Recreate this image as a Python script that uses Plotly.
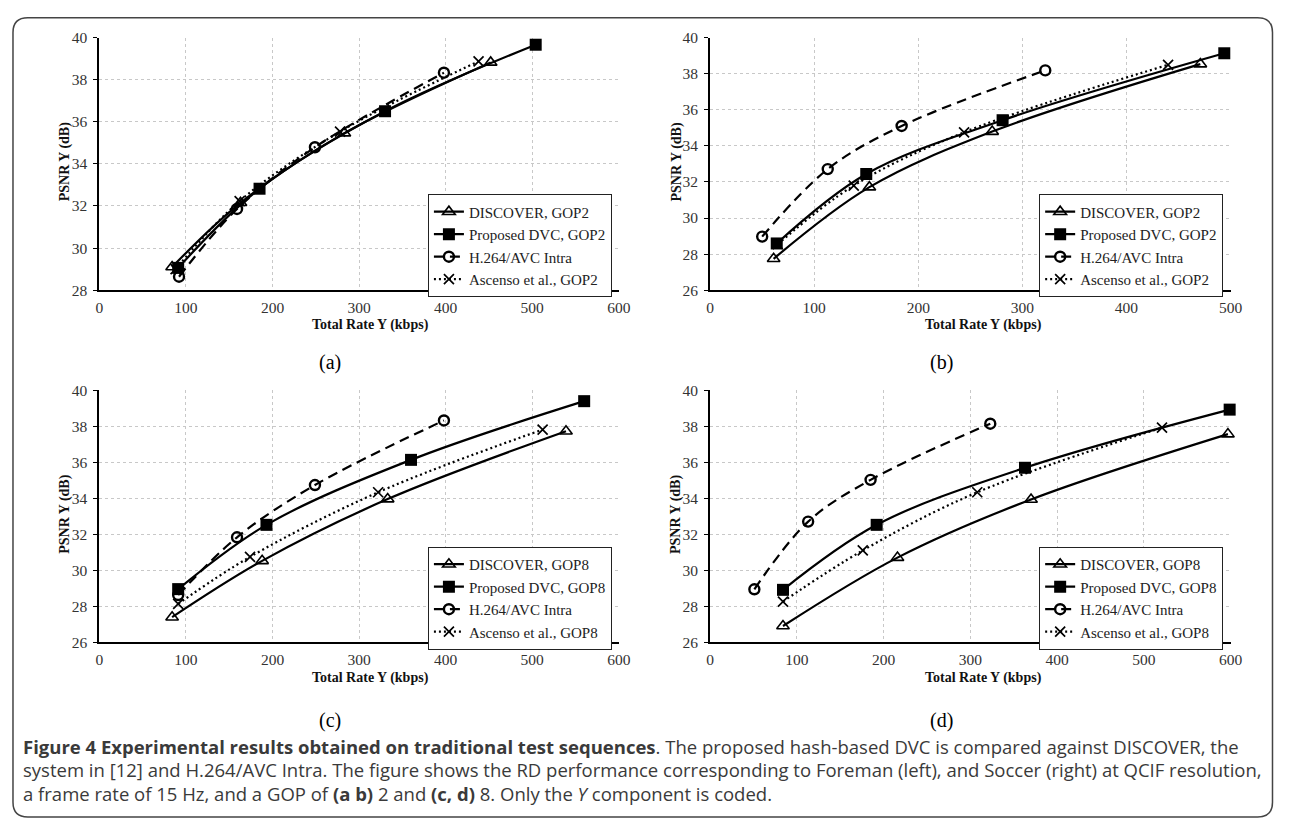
import plotly.graph_objects as go

# ---------------- data ----------------
series_names_gop2 = ["DISCOVER, GOP2", "Proposed DVC, GOP2", "H.264/AVC Intra", "Ascenso et al., GOP2"]
series_names_gop8 = ["DISCOVER, GOP8", "Proposed DVC, GOP8", "H.264/AVC Intra", "Ascenso et al., GOP8"]
panel_labels = ["(a)", "(b)", "(c)", "(d)"]

# (a) Foreman, GOP2
a_discover_rate = [84, 163, 283, 452]
a_discover_psnr = [29.10, 32.15, 35.46, 38.82]
a_proposed_rate = [91, 185, 330, 504]
a_proposed_psnr = [29.06, 32.82, 36.50, 39.66]
a_h264_rate = [92, 159, 249, 398]
a_h264_psnr = [28.64, 31.86, 34.79, 38.33]
a_ascenso_rate = [88, 162, 278, 438]
a_ascenso_psnr = [29.00, 32.23, 35.53, 38.87]

# (b) Soccer, GOP2
b_discover_rate = [61, 153, 271, 471]
b_discover_psnr = [27.74, 31.71, 34.79, 38.53]
b_proposed_rate = [64, 150, 281, 494]
b_proposed_psnr = [28.59, 32.44, 35.42, 39.13]
b_h264_rate = [50, 113, 184, 322]
b_h264_psnr = [28.97, 32.71, 35.10, 38.18]
b_ascenso_rate = [65, 138, 244, 440]
b_ascenso_psnr = [28.55, 31.80, 34.75, 38.49]

# (c) Foreman, GOP8
c_discover_rate = [84, 188, 333, 539]
c_discover_psnr = [27.40, 30.53, 33.96, 37.73]
c_proposed_rate = [91, 193, 360, 560]
c_proposed_psnr = [28.96, 32.53, 36.14, 39.40]
c_h264_rate = [91, 159, 249, 398]
c_h264_psnr = [28.63, 31.84, 34.74, 38.33]
c_ascenso_rate = [91, 174, 322, 512]
c_ascenso_psnr = [28.14, 30.75, 34.34, 37.82]

# (d) Soccer, GOP8
d_discover_rate = [84, 216, 370, 597]
d_discover_psnr = [26.91, 30.71, 33.94, 37.57]
d_proposed_rate = [84, 192, 363, 599]
d_proposed_psnr = [28.92, 32.53, 35.70, 38.93]
d_h264_rate = [51, 113, 185, 323]
d_h264_psnr = [28.95, 32.71, 35.03, 38.15]
d_ascenso_rate = [84, 176, 308, 521]
d_ascenso_psnr = [28.27, 31.11, 34.34, 37.93]

x_title = "Total Rate Y (kbps)"
y_title = "PSNR Y (dB)"

caption_lines = [
    "<b>Figure 4 Experimental results obtained on traditional test sequences</b>. The proposed hash-based DVC is compared against DISCOVER, the",
    "system in [12] and H.264/AVC Intra. The figure shows the RD performance corresponding to Foreman (left), and Soccer (right) at QCIF resolution,",
    "a frame rate of 15 Hz, and a GOP of <b>(a b)</b> 2 and <b>(c, d)</b> 8. Only the <i>Y</i> component is coded.",
]

# ---------------- layout helpers ----------------
W, H = 1276, 817
OFF = 8


def px(x):
    return (x - OFF) / W


def py(y):
    return 1 - (y - OFF) / H


SERIF = "Liberation Serif, Times New Roman, serif"

panels = [
    dict(key="", names=series_names_gop2, legend="legend",
         xdom=(96.5, 622.5), ydom=(29, 287), xr=[0, 600], yr=[28, 40],
         data=[(a_discover_rate, a_discover_psnr), (a_proposed_rate, a_proposed_psnr),
               (a_h264_rate, a_h264_psnr), (a_ascenso_rate, a_ascenso_psnr)],
         leg=(429, 189), ytit=(62, 156), xtit=(371, 323), lab=(330, 361)),
    dict(key="2", names=series_names_gop2, legend="legend2",
         xdom=(715, 1242), ydom=(29, 287), xr=[0, 500], yr=[26, 40],
         data=[(b_discover_rate, b_discover_psnr), (b_proposed_rate, b_proposed_psnr),
               (b_h264_rate, b_h264_psnr), (b_ascenso_rate, b_ascenso_psnr)],
         leg=(1048, 189), ytit=(681, 156), xtit=(992, 323), lab=(949, 361)),
    dict(key="3", names=series_names_gop8, legend="legend3",
         xdom=(96.5, 622.5), ydom=(389.3, 646.7), xr=[0, 600], yr=[26, 40],
         data=[(c_discover_rate, c_discover_psnr), (c_proposed_rate, c_proposed_psnr),
               (c_h264_rate, c_h264_psnr), (c_ascenso_rate, c_ascenso_psnr)],
         leg=(429, 549), ytit=(62, 516), xtit=(371, 683), lab=(330, 726)),
    dict(key="4", names=series_names_gop8, legend="legend4",
         xdom=(715, 1242), ydom=(389.3, 646.7), xr=[0, 600], yr=[26, 40],
         data=[(d_discover_rate, d_discover_psnr), (d_proposed_rate, d_proposed_psnr),
               (d_h264_rate, d_h264_psnr), (d_ascenso_rate, d_ascenso_psnr)],
         leg=(1048, 549), ytit=(681, 516), xtit=(992, 683), lab=(949, 726)),
]

styles = [
    dict(line=dict(color="black", width=2.2, dash="solid", shape="spline", smoothing=1.0),
         marker=dict(symbol="triangle-up-open", size=11, color="black", line=dict(width=1.6, color="black"))),
    dict(line=dict(color="black", width=2.2, dash="solid", shape="spline", smoothing=1.0),
         marker=dict(symbol="square", size=12, color="black", line=dict(width=0))),
    dict(line=dict(color="black", width=2.2, dash="10px,6px", shape="spline", smoothing=1.0),
         marker=dict(symbol="circle-open", size=10, color="black", line=dict(width=2.4, color="black"))),
    dict(line=dict(color="black", width=2.2, dash="2px,3px", shape="spline", smoothing=1.0),
         marker=dict(symbol="x-thin-open", size=10, color="black", line=dict(width=1.7, color="black"))),
]

fig = go.Figure()
annotations = []
layout_upd = {}

for p in panels:
    k = p["key"]
    for (xs, ys), name, st in zip(p["data"], p["names"], styles):
        fig.add_trace(go.Scatter(
            x=xs, y=ys, mode="lines+markers", name=name,
            line=st["line"], marker=st["marker"],
            xaxis="x" + k, yaxis="y" + k, legend=p["legend"], cliponaxis=False,
        ))
    axis_common = dict(
        showline=True, linecolor="black", linewidth=2,
        showgrid=True, gridcolor="#c8c8c8", gridwidth=1, griddash="dot",
        zeroline=False,
        tickfont=dict(family=SERIF, size=15.5, color="#333333"),
        fixedrange=True,
    )
    layout_upd["xaxis" + k] = dict(
        axis_common, domain=[px(p["xdom"][0]), px(p["xdom"][1])], range=p["xr"],
        dtick=100, tick0=0, anchor="y" + k, ticks="", ticklabelstandoff=2,
    )
    layout_upd["yaxis" + k] = dict(
        axis_common, domain=[py(p["ydom"][1]), py(p["ydom"][0])], range=p["yr"],
        dtick=2, tick0=0, anchor="x" + k, ticks="outside", ticklen=4,
        tickcolor="black", tickwidth=1, ticklabelstandoff=3,
    )
    layout_upd[p["legend"]] = dict(
        x=px(p["leg"][0]), y=py(p["leg"][1]), xanchor="left", yanchor="top",
        bgcolor="white", bordercolor="#222222", borderwidth=1.2,
        font=dict(family=SERIF, size=15, color="#222222"),
        itemwidth=30, tracegroupgap=0,
    )
    annotations.append(dict(
        text="<b>" + y_title + "</b>", x=px(p["ytit"][0]), y=py(p["ytit"][1]),
        xref="paper", yref="paper", textangle=-90, showarrow=False,
        font=dict(family=SERIF, size=14, color="#111111"),
        xanchor="center", yanchor="middle",
    ))
    annotations.append(dict(
        text="<b>" + x_title + "</b>", x=px(p["xtit"][0]), y=py(p["xtit"][1]),
        xref="paper", yref="paper", showarrow=False,
        font=dict(family=SERIF, size=14, color="#111111"),
        xanchor="center", yanchor="middle",
    ))

for p, lab in zip(panels, panel_labels):
    annotations.append(dict(
        text=lab, x=px(p["lab"][0]), y=py(p["lab"][1]), xref="paper", yref="paper",
        showarrow=False, font=dict(family=SERIF, size=20, color="black"),
        xanchor="center", yanchor="middle",
    ))

cap_y = [753, 777, 801]
for line, yy in zip(caption_lines, cap_y):
    annotations.append(dict(
        text=line, x=px(17), y=py(yy), xref="paper", yref="paper", showarrow=False,
        font=dict(family="Open Sans, Noto Sans, sans-serif", size=18.5, color="#3a3a3a"),
        xanchor="left", yanchor="middle", align="left",
    ))

# rounded frame
x0, x1 = px(9), px(1284.5)
y0, y1 = py(825), py(8.8)
rx, ry = 15 / W, 15 / H
frame_path = (
    f"M {x0+rx},{y1} L {x1-rx},{y1} Q {x1},{y1} {x1},{y1-ry} "
    f"L {x1},{y0+ry} Q {x1},{y0} {x1-rx},{y0} "
    f"L {x0+rx},{y0} Q {x0},{y0} {x0},{y0+ry} "
    f"L {x0},{y1-ry} Q {x0},{y1} {x0+rx},{y1} Z"
)

fig.update_layout(
    width=W, height=H, autosize=False,
    margin=dict(l=0, r=0, t=0, b=0, pad=0),
    paper_bgcolor="white", plot_bgcolor="white",
    annotations=annotations,
    shapes=[dict(type="path", path=frame_path, xref="paper", yref="paper",
                 line=dict(color="#444444", width=1.5), layer="above")],
    font=dict(family=SERIF),
    **layout_upd,
)

fig.write_html("out.html")
